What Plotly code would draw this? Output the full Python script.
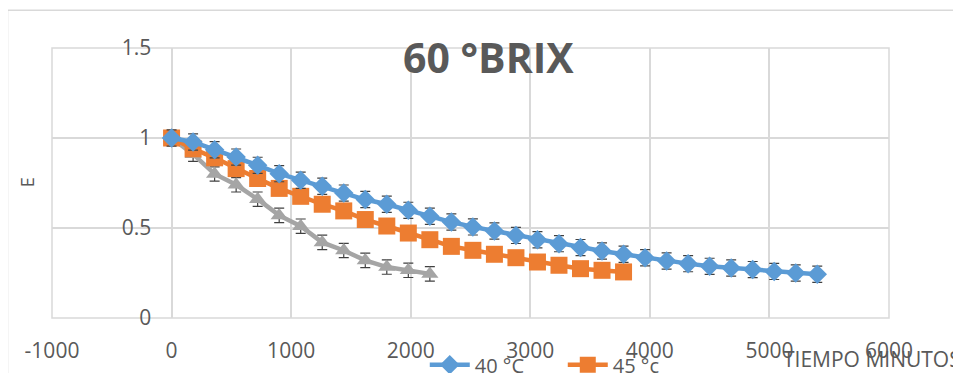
import plotly.graph_objects as go

# ---- data ----
t40 = [i * 180 for i in range(31)]
e40 = [1.0, 0.978, 0.935, 0.894, 0.848, 0.802, 0.765, 0.732, 0.694, 0.658, 0.632,
       0.598, 0.565, 0.533, 0.506, 0.483, 0.459, 0.435, 0.413, 0.391, 0.372, 0.354,
       0.335, 0.317, 0.302, 0.287, 0.278, 0.269, 0.259, 0.25, 0.243]
err40 = [0.045] * len(t40)

t45 = [i * 180 for i in range(22)]
e45 = [1.0, 0.94, 0.89, 0.83, 0.775, 0.72, 0.676, 0.632, 0.595, 0.547, 0.511,
       0.472, 0.435, 0.398, 0.376, 0.354, 0.335, 0.311, 0.293, 0.274, 0.265, 0.256]

t50 = [i * 180 for i in range(13)]
e50 = [1.0, 0.91, 0.80, 0.74, 0.66, 0.57, 0.51, 0.42, 0.375, 0.32, 0.283, 0.265, 0.245]
err50 = [0.04] * len(t50)

x_ticks = [-1000, 0, 1000, 2000, 3000, 4000, 5000, 6000]
x_ticktext = ["-1000", "0", "1000", "2000", "3000", "4000", "5000", "6000"]
y_ticks = [0, 0.5, 1, 1.5]
y_ticktext = ["0", "0.5", "1", "1.5"]

TXT = "#595959"
GRID = "#d9d9d9"
FONT = "Open Sans"

# page body margin offset (browser default 8px)
OFF = 8
W, H = 961, 373
# plot area in screen pixels of the reference
SL, SR, ST, SB = 52, 889.5, 47.7, 317.7
L, R, T, B = SL - OFF, SR - OFF, ST - OFF, SB - OFF
pw, ph = R - L, B - T


def px(x):
    return (x - SL) / pw


def py(y):
    return (SB - y) / ph


fig = go.Figure()

fig.add_trace(go.Scatter(
    x=t50, y=e50, name="50 °C", mode="lines+markers", showlegend=False,
    line=dict(color="#A5A5A5", width=4.5),
    marker=dict(symbol="triangle-up", size=15, color="#A5A5A5"),
    error_y=dict(type="data", array=err50, color="#404040", thickness=1.2, width=5),
))
fig.add_trace(go.Scatter(
    x=t45, y=e45, name="45 °c", mode="lines+markers",
    line=dict(color="#ED7D31", width=4.5),
    marker=dict(symbol="square", size=17, color="#ED7D31"),
))
fig.add_trace(go.Scatter(
    x=t40, y=e40, name="40 °C", mode="lines+markers",
    line=dict(color="#5B9BD5", width=4.5),
    marker=dict(symbol="diamond", size=15, color="#5B9BD5"),
    error_y=dict(type="data", array=err40, color="#404040", thickness=1.2, width=5),
))

fig.update_layout(
    width=W, height=H,
    margin=dict(l=L, r=W - R, t=T, b=H - B, autoexpand=False),
    paper_bgcolor="white", plot_bgcolor="white",
    font=dict(family=FONT, color=TXT, size=20),
    showlegend=True,
    legend=dict(orientation="h", x=px(425), y=py(345), xanchor="left", yanchor="top",
                traceorder="reversed", font=dict(size=20, color=TXT),
                bgcolor="rgba(0,0,0,0)", itemwidth=40,
                entrywidth=83, entrywidthmode="pixels"),
    xaxis=dict(range=[-1000, 6000], tickvals=x_ticks, ticktext=x_ticktext, showgrid=True,
               gridcolor=GRID, gridwidth=1.5, zeroline=False, showline=False, ticks="",
               ticklabelstandoff=18, tickfont=dict(size=21, color=TXT, family=FONT)),
    yaxis=dict(range=[0, 1.5], tickvals=y_ticks, ticktext=y_ticktext, showgrid=True,
               gridcolor=GRID, gridwidth=1.5, zeroline=False, showline=False, ticks="",
               anchor="free", position=px(171.3), ticklabelstandoff=20,
               tickfont=dict(size=21, color=TXT, family=FONT)),
    annotations=[
        dict(text="<b>60 °BRIX</b>", xref="paper", yref="paper", x=px(489), y=py(57),
             xanchor="center", yanchor="middle", showarrow=False,
             font=dict(size=41, color=TXT, family=FONT)),
        dict(text="E", xref="paper", yref="paper", x=px(27), y=py(182), textangle=-90,
             xanchor="center", yanchor="middle", showarrow=False,
             font=dict(size=18, color=TXT, family=FONT)),
        dict(text="TIEMPO MINUTOS", xref="paper", yref="paper", x=px(781), y=py(359),
             xanchor="left", yanchor="middle", showarrow=False,
             font=dict(size=21, color=TXT, family=FONT)),
    ],
    shapes=[
        dict(type="rect", xref="paper", yref="paper", x0=0, y0=0, x1=1, y1=1,
             line=dict(color=GRID, width=1.5), layer="below"),
        dict(type="line", xref="paper", yref="paper", x0=px(7.5), x1=px(975),
             y0=py(10), y1=py(10), line=dict(color=GRID, width=1.5)),
        dict(type="line", xref="paper", yref="paper", x0=px(7.5), x1=px(7.5),
             y0=py(10), y1=py(390), line=dict(color=GRID, width=1.5)),
    ],
)

fig.write_html("out.html")
